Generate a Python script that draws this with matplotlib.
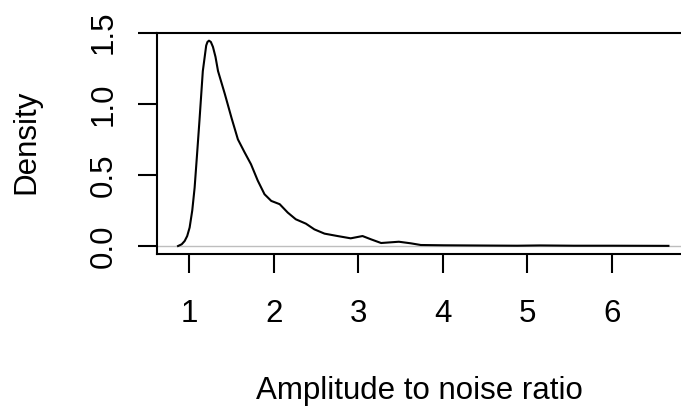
import numpy as np
import matplotlib.pyplot as plt

plt.rcParams['font.family'] = ['Liberation Sans', 'DejaVu Sans']

# density curve
amp = [0.867, 0.91, 0.945, 0.975, 1.004, 1.035, 1.063, 1.09, 1.12, 1.16, 1.20, 1.215,
       1.233, 1.255, 1.28, 1.31, 1.34, 1.38, 1.42, 1.46,
       1.50, 1.575, 1.653, 1.73, 1.81, 1.89, 1.97, 2.07, 2.165, 2.26, 2.38,
       2.48, 2.60, 2.755, 2.91, 3.05, 3.15, 3.27, 3.48, 3.62, 3.74, 4.01,
       4.57, 4.88, 5.15, 5.55, 6.0, 6.67]
dens = [0.0, 0.012, 0.035, 0.07, 0.13, 0.25, 0.41, 0.63, 0.88, 1.23, 1.41, 1.435,
        1.444, 1.435, 1.40, 1.33, 1.23, 1.15, 1.07, 0.985,
        0.90, 0.75, 0.66, 0.575, 0.46, 0.364, 0.317, 0.294, 0.235, 0.188, 0.157,
        0.117, 0.087, 0.070, 0.054, 0.070, 0.047, 0.021, 0.030, 0.019, 0.007, 0.005,
        0.003, 0.002, 0.004, 0.002, 0.002, 0.001]
xticks = [1, 2, 3, 4, 5, 6]
yticks = [0.0, 0.5, 1.0, 1.5]
yticklabels = ['0.0', '0.5', '1.0', '1.5']

W, H = 681, 407
fig = plt.figure(figsize=(W/100, H/100), dpi=100)
left, right, top, bottom = 157.3, 684, 32.5, 254.3
ax = fig.add_axes([left/W, 1-bottom/H, (right-left)/W, (bottom-top)/H])

ax.axhline(0, color='#bebebe', lw=1)
ax.plot(amp, dens, color='black', lw=1.5)

# 1 -> 189.3 px, 84.5 px per unit; 0 -> 246 px, 142.2 px per unit
ax.set_xlim(1 - (189.3-left)/84.5, 1 + (right-189.3)/84.5)
ax.set_ylim(-(bottom-246)/142.2, (246-top)/142.2)
ax.set_xticks(xticks)
ax.set_xticklabels([str(t) for t in xticks])
ax.set_yticks(yticks)
ax.set_yticklabels(yticklabels, rotation=90, va='center')
ax.tick_params(axis='both', length=14, width=1.5, labelsize=22.5, direction='out')
ax.tick_params(axis='x', pad=18.5)
ax.tick_params(axis='y', pad=13.5)
for s in ax.spines.values():
    s.set_linewidth(1.5)

fig.text(419/W, 1-399/H, 'Amplitude to noise ratio', ha='center', va='baseline', fontsize=22.5)
fig.text(26/W, 1-141.5/H, 'Density', ha='center', va='center', fontsize=22.5, rotation=90)

fig.savefig('out.png', dpi=100)
